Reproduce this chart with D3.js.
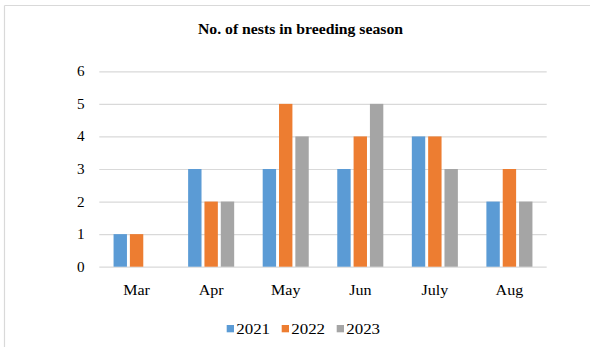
<!DOCTYPE html>
<html>
<head>
<meta charset="utf-8">
<script src="https://cdn.jsdelivr.net/npm/d3@7"></script>
<style>
  html, body { margin: 0; padding: 0; background: #fff; }
  svg { display: block; }
  text { font-family: "Liberation Serif", "Times New Roman", serif; fill: #000; }
</style>
</head>
<body>
<svg id="chart" width="590" height="347"></svg>
<script>
// Nest counts per month for each breeding season
const months = ["Mar", "Apr", "May", "Jun", "July", "Aug"];
const seasons = ["2021", "2022", "2023"];
const nests2021 = [1, 3, 3, 3, 4, 2];
const nests2022 = [1, 2, 5, 4, 4, 3];
const nests2023 = [0, 2, 4, 5, 3, 2];
const yTicks = [0, 1, 2, 3, 4, 5, 6];
const colors = ["#5B9BD5", "#ED7D31", "#A5A5A5"];

const seriesValues = [nests2021, nests2022, nests2023];
const rows = months.map((m, i) => ({
  month: m,
  values: seasons.map((s, j) => ({ season: s, value: seriesValues[j][i] }))
}));

const svg = d3.select("#chart");
const W = 590, H = 347;
const plot = { left: 99.3, right: 546.7, top: 71.3, bottom: 266.7 };

// Frame (top and left edges visible)
svg.append("line").attr("x1", 4.5).attr("x2", W).attr("y1", 5.5).attr("y2", 5.5)
  .attr("stroke", "#d9d9d9").attr("stroke-width", 1.2);
svg.append("line").attr("x1", 4.5).attr("x2", 4.5).attr("y1", 5.5).attr("y2", H)
  .attr("stroke", "#d9d9d9").attr("stroke-width", 1.2);

// Text with slight horizontal stretch
function stretchedText(g, x, y, str, size, anchor, sx, weight) {
  return g.append("text")
    .attr("transform", `translate(${x},${y}) scale(${sx},1)`)
    .attr("text-anchor", anchor)
    .style("font-size", size + "px")
    .style("font-weight", weight || "normal")
    .text(str);
}

// Title
stretchedText(svg, 300.5, 34.3, "No. of nests in breeding season", 15, "middle", 1.05, "bold");

// Scales
const y = d3.scaleLinear().domain([0, 6]).range([plot.bottom, plot.top]);
const x0 = d3.scaleBand().domain(months).range([plot.left, plot.right])
  .paddingInner(0.343).paddingOuter(0.1715);
const x1 = d3.scaleBand().domain(seasons).range([0, x0.bandwidth()])
  .paddingInner(0.18).paddingOuter(0.09);
const color = d3.scaleOrdinal().domain(seasons).range(colors);

// Gridlines
const yAxis = d3.axisLeft(y).tickValues(yTicks).tickSize(-(plot.right - plot.left)).tickFormat("");
const gy = svg.append("g").attr("transform", `translate(${plot.left},0)`).call(yAxis);
gy.select(".domain").remove();
gy.selectAll(".tick line").attr("stroke", "#d9d9d9").attr("stroke-width", 1.2);

// Y tick labels
yTicks.forEach(t => {
  stretchedText(svg, 84.5, y(t) + 5, String(t), 14.5, "end", 1.05);
});

// Bars
const groups = svg.append("g").selectAll("g").data(rows).join("g")
  .attr("transform", d => `translate(${x0(d.month)},0)`);
groups.selectAll("rect").data(d => d.values.filter(v => v.value > 0)).join("rect")
  .attr("x", d => x1(d.season))
  .attr("width", x1.bandwidth())
  .attr("y", d => y(d.value))
  .attr("height", d => y(0) - y(d.value))
  .attr("fill", d => color(d.season));

// Month labels
months.forEach(m => {
  stretchedText(svg, x0(m) + x0.bandwidth() / 2, 295, m, 15, "middle", 1.07);
});

// Legend
const legendX = [226.7, 281.7, 336.7];
seasons.forEach((s, i) => {
  svg.append("rect").attr("x", legendX[i]).attr("y", 325).attr("width", 7.3).attr("height", 7.3)
    .attr("fill", color(s));
  stretchedText(svg, legendX[i] + 9.5, 334.3, s, 15, "start", 1.13);
});
</script>
</body>
</html>
